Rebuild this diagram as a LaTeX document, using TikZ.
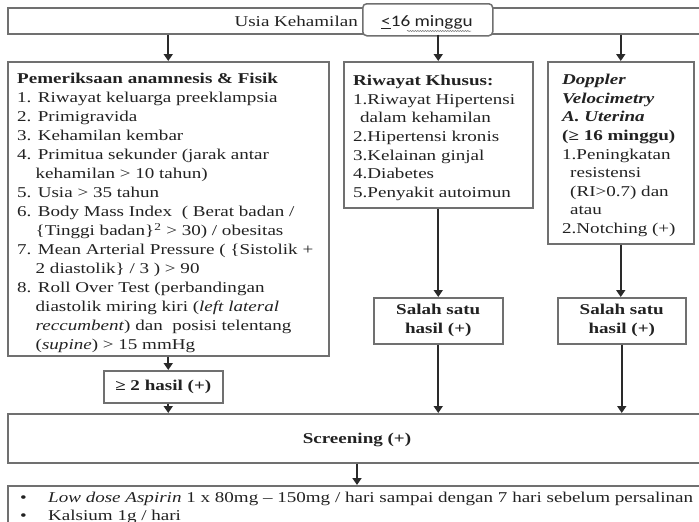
\documentclass[tikz,border=0pt]{standalone}
\usepackage{fontspec}
\setmainfont{Liberation Serif}[FakeStretch=1.27]
\newfontfamily\calib{Carlito}[FakeStretch=1.2]
\usetikzlibrary{arrows.meta,decorations.pathmorphing}
\definecolor{boxgray}{HTML}{707070}
\definecolor{arrgray}{HTML}{2A2A2A}
\definecolor{txtgray}{HTML}{222222}
\begin{document}
\begin{tikzpicture}[x=1pt,y=-1pt,
  box/.style={draw=boxgray, line width=1.5pt, fill=white, inner sep=0pt, anchor=north west, text=txtgray},
  txt/.style={align=left, inner sep=0pt, anchor=north west, text=txtgray, font=\fontsize{15}{19}\selectfont},
  lbl/.style={inner sep=0pt, text=txtgray, font=\fontsize{15}{19}\selectfont},
  arr/.style={draw=arrgray, line width=2.2pt, -{Triangle[length=7pt,width=9pt]}},
]
\useasboundingbox (0,0) rectangle (699,522);
\clip (0,0) rectangle (699,522);
\fill[white] (0,0) rectangle (699,522);

% boxes
\node[box, minimum width=720pt, minimum height=26pt] (top) at (7,7) {};
\node[box, rounded corners=4pt, minimum width=130pt, minimum height=32pt] (age) at (362,3) {};
\node[box, minimum width=321pt, minimum height=294pt] (left) at (7,61) {};
\node[box, minimum width=189pt, minimum height=146pt] (mid) at (343,61) {};
\node[box, minimum width=146pt, minimum height=182pt] (right) at (547,61) {};
\node[box, minimum width=119pt, minimum height=32pt, font=\fontsize{15}{19}\selectfont\bfseries] (two) at (103,370) {≥ 2 hasil (+)};
\node[box, minimum width=129pt, minimum height=46pt, align=center, font=\fontsize{15}{19}\selectfont\bfseries] (salahA) at (373,297) {Salah satu\\hasil (+)};
\node[box, minimum width=128pt, minimum height=46pt, align=center, font=\fontsize{15}{19}\selectfont\bfseries] (salahB) at (557,297) {Salah satu\\hasil (+)};
\node[box, minimum width=720pt, minimum height=49pt] (screen) at (7,413) {};
\node[box, minimum width=720pt, minimum height=60pt] (bottom) at (7,485) {};

% top labels
\node[lbl, anchor=base east] (usia) at (358,26) {Usia Kehamilan};
\node[inner sep=0pt, anchor=base, text=txtgray, font=\calib\fontsize{16}{19}\selectfont] (agetxt) at (427,27) {\underline{<}16 minggu};
\draw[boxgray, line width=0.5pt, decorate, decoration={snake, amplitude=0.6pt, segment length=2.5pt}] (407,31) -- (471,31);

% texts
\node[txt] (lefttxt) at (17,72.7) {\textbf{Pemeriksaan anamnesis \& Fisik}\\
1. Riwayat keluarga preeklampsia\\
2. Primigravida\\
3. Kehamilan kembar\\
4. Primitua sekunder (jarak antar\\
\hspace*{18.5pt}kehamilan > 10 tahun)\\
5. Usia > 35 tahun\\
6. Body Mass Index\ \ ( Berat badan /\\
\hspace*{18.5pt}\{Tinggi badan\}\textsuperscript{2} > 30) / obesitas\\
7. Mean Arterial Pressure ( \{Sistolik +\\
\hspace*{18.5pt}2 diastolik\} / 3 ) > 90\\
8. Roll Over Test (perbandingan\\
\hspace*{18.5pt}diastolik miring kiri (\textit{left lateral}\\
\hspace*{18.5pt}\textit{reccumbent}) dan\ \ posisi telentang\\
\hspace*{18.5pt}(\textit{supine}) > 15 mmHg};

\node[txt, font=\fontsize{15}{18.6}\selectfont] (midtxt) at (353,75) {\textbf{Riwayat Khusus:}\\
1.Riwayat Hipertensi\\
\hspace*{7pt}dalam kehamilan\\
2.Hipertensi kronis\\
3.Kelainan ginjal\\
4.Diabetes\\
5.Penyakit autoimun};

\node[txt, font=\fontsize{15}{18.6}\selectfont] (righttxt) at (562,74) {\textbf{\textit{Doppler}}\\
\textbf{\textit{Velocimetry}}\\
\textbf{\textit{A. Uterina}}\\
\textbf{(≥ 16 minggu)}\\
1.Peningkatan\\
\hspace*{8pt}resistensi\\
\hspace*{8pt}(RI>0.7) dan\\
\hspace*{8pt}atau\\
2.Notching (+)};

\node[lbl, font=\fontsize{15}{19}\selectfont\bfseries] (scrtxt) at (357,440) {Screening (+)};

\node[lbl, anchor=base west] (bulA) at (20,502) {•};
\node[lbl, anchor=base west] (itemA) at (48,502) {\textit{Low dose Aspirin} 1 x 80mg – 150mg / hari sampai dengan 7 hari sebelum persalinan};
\node[lbl, anchor=base west] (bulB) at (20,520) {•};
\node[lbl, anchor=base west] (itemB) at (48,520) {Kalsium 1g / hari};

% arrows
\draw[arr] (top.south -| left.north) -- (left.north);
\draw[arr] (top.south -| mid.north) -- (mid.north);
\draw[arr] (top.south -| right.north) -- (right.north);
\draw[arr] (left.south) -- (two.north -| left.south);
\draw[arr] (two.south -| left.south) -- (screen.north -| left.south);
\draw[arr] (mid.south) -- (salahA.north -| mid.south);
\draw[arr] (salahA.south) -- (screen.north -| salahA.south);
\draw[arr] (right.south) -- (salahB.north -| right.south);
\draw[arr] (salahB.south) -- (screen.north -| salahB.south);
\draw[arr] (screen.south -| scrtxt) -- (bottom.north -| scrtxt);
\end{tikzpicture}
\end{document}
